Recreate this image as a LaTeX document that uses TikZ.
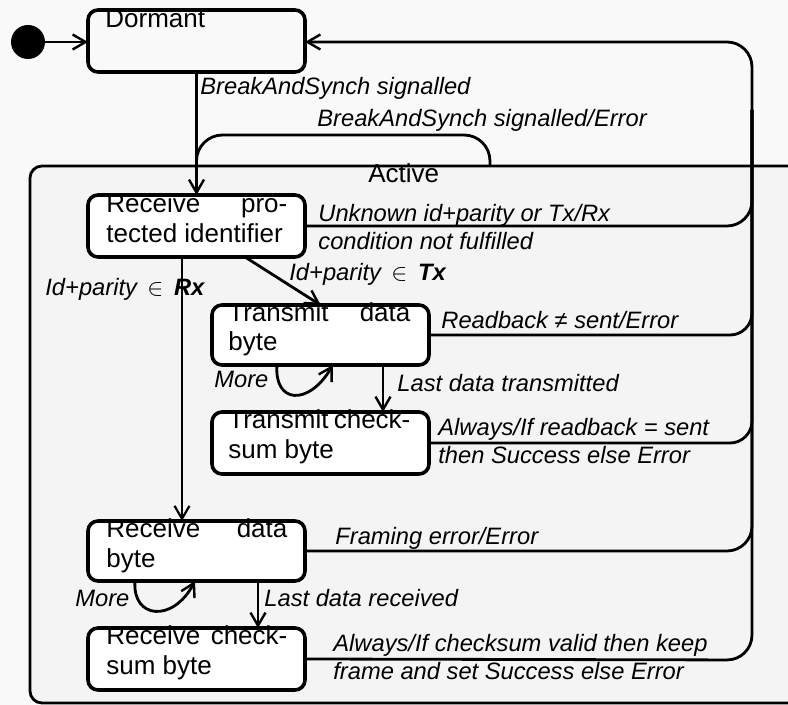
\documentclass[tikz,border=0pt]{standalone}
\usepackage{fontspec}
\setmainfont{Liberation Sans}
\usetikzlibrary{arrows.meta}
\definecolor{bgout}{gray}{0.975}
\definecolor{bgin}{gray}{0.955}
\begin{document}
\begin{tikzpicture}[x=0.5pt,y=-0.5pt,
  stfill/.style={rectangle,rounded corners=5pt,fill=white,inner sep=0pt,outer sep=0pt,minimum width=108.5pt},
  stborder/.style={draw=black,line width=1.8pt,rounded corners=5pt},
  stext/.style={font=\fontsize{13}{15}\selectfont,inner sep=0pt,anchor=base west},
  lbl/.style={font=\fontsize{11.85}{14}\selectfont\itshape,inner sep=0pt,anchor=base west},
  trans/.style={draw=black,line width=1.4pt,-{Straight Barb[length=6.5pt,width=7.5pt,line width=1.2pt]}},
  plain/.style={draw=black,line width=1.4pt},
  thin/.style={draw=black,line width=0.8pt,-{Straight Barb[length=6.5pt,width=7.5pt,line width=1.1pt]}}]
\clip (0,0) rectangle (788,705);
\fill[bgout] (0,0) rectangle (788,705);
% Active superstate
\node[draw=black,line width=1.4pt,fill=bgin,rounded corners=6pt,inner sep=0pt,minimum width=400pt,minimum height=268.5pt] (active) at (430,434.5) {};
\node[stext] (activeT) at (368,183) {Active};
% states (fill)
\node[stfill,minimum height=31pt,fill=bgout] (dormant) at (196.5,41) {};
\node[stfill,minimum height=31pt] (recvpid) at (196.5,226) {};
\node[stfill,minimum height=30pt] (txdata) at (320.5,335) {};
\node[stfill,minimum height=31pt] (txchk) at (320.5,443) {};
\node[stfill,minimum height=30pt] (rxdata) at (196.5,551) {};
\node[stfill,minimum height=31pt] (rxchk) at (196.5,659) {};
% state texts
\node[stext] (dormantT) at (105,28) {Dormant};
\node[stext] (recvpidT1) at (106,213) {\makebox[90.5pt][l]{Receive\hfill pro-}};
\node[stext] (recvpidT2) at (106,243) {tected identifier};
\node[stext] (txdataT1) at (228,322) {\makebox[91pt][l]{Transmit\hfill data}};
\node[stext] (txdataT2) at (228,351) {byte};
\node[stext] (txchkT1) at (228,429) {\makebox[91pt][l]{Transmit\hfill check-}};
\node[stext] (txchkT2) at (228,459) {sum byte};
\node[stext] (rxdataT1) at (106,538) {\makebox[90.5pt][l]{Receive\hfill data}};
\node[stext] (rxdataT2) at (106,568) {byte};
\node[stext] (rxchkT1) at (106,645) {\makebox[90.5pt][l]{Receive\hfill check-}};
\node[stext] (rxchkT2) at (106,675) {sum byte};
% state borders
\foreach \s in {dormant,recvpid,txdata,txchk,rxdata,rxchk}
  \draw[stborder] (\s.north west) rectangle (\s.south east);
% initial
\node[circle,fill=black,inner sep=0pt,minimum size=17pt] (init) at (28,42) {};
\draw[trans] (init) -- (init -| dormant.west);
% bus to Dormant
\coordinate (busTop) at (752,42);
\coordinate (busMid) at (752,110);
\coordinate (busBot) at (752,660);
\draw[trans,rounded corners=12.5pt] (rxchk.east) -- (busBot) -- (busTop) -- (busTop -| dormant.east);
\draw[plain,rounded corners=12.5pt] (recvpid.east) -| (busMid);
\draw[plain,rounded corners=11pt] (txdata.east) -| (busMid);
\draw[plain,rounded corners=11pt] (txchk.east) -| (busMid);
\draw[plain,rounded corners=12.5pt] (rxdata.east) -| (busMid);
% Dormant -> Receive protected identifier
\draw[trans] (dormant.south) -- (recvpid.north);
\coordinate (aTop) at (490,166);
\coordinate (merge) at (196.5,170);
\draw[plain,rounded corners=13pt] (aTop) |- (196.5,135) -- (merge);
% Receive pid -> transmit / receive
\draw[trans] ([xshift=24.25pt]recvpid.south) -- (txdata.north);
\draw[thin] ([xshift=-7.25pt]recvpid.south) -- ([xshift=-7.25pt]rxdata.north);
% loops and sequences
\draw[trans] ([xshift=-21.75pt]txdata.south) .. controls +(-3,38) and +(-25,42) .. ([xshift=6.25pt]txdata.south);
\draw[trans] ([xshift=31.25pt]txdata.south) -- ([xshift=31.25pt]txchk.north);
\draw[trans] ([xshift=-30.75pt]rxdata.south) .. controls +(-3,38) and +(-22,42) .. ([xshift=-0.75pt]rxdata.south);
\draw[trans] ([xshift=30.75pt]rxdata.south) -- ([xshift=30.75pt]rxchk.north);
% labels
\node[lbl] (l1) at (200,95) {BreakAndSynch signalled};
\node[lbl] (l2) at (317,127) {BreakAndSynch signalled/Error};
\node[lbl] (l3) at (318,222) {Unknown id+parity or Tx/Rx};
\node[lbl] (l3b) at (318,250) {condition not fulfilled};
\node[lbl] (l4) at (289,281) {Id+parity \,$\in$\, \textbf{Tx}};
\node[lbl] (l5) at (45,296) {Id+parity \,$\in$\, \textbf{Rx}};
\node[lbl] (l6) at (441,329) {Readback ≠ sent/Error};
\node[lbl] (l7) at (214,388) {More};
\node[lbl] (l8) at (397,392) {Last data transmitted};
\node[lbl] (l9) at (438,436) {Always/If readback = sent};
\node[lbl] (l9b) at (438,464) {then Success else Error};
\node[lbl] (l10) at (335,545) {Framing error/Error};
\node[lbl] (l11) at (75,607) {More};
\node[lbl] (l12) at (264,607) {Last data received};
\node[lbl] (l13) at (333,652) {Always/If checksum valid then keep};
\node[lbl] (l13b) at (333,680) {frame and set Success else Error};
\end{tikzpicture}
\end{document}
